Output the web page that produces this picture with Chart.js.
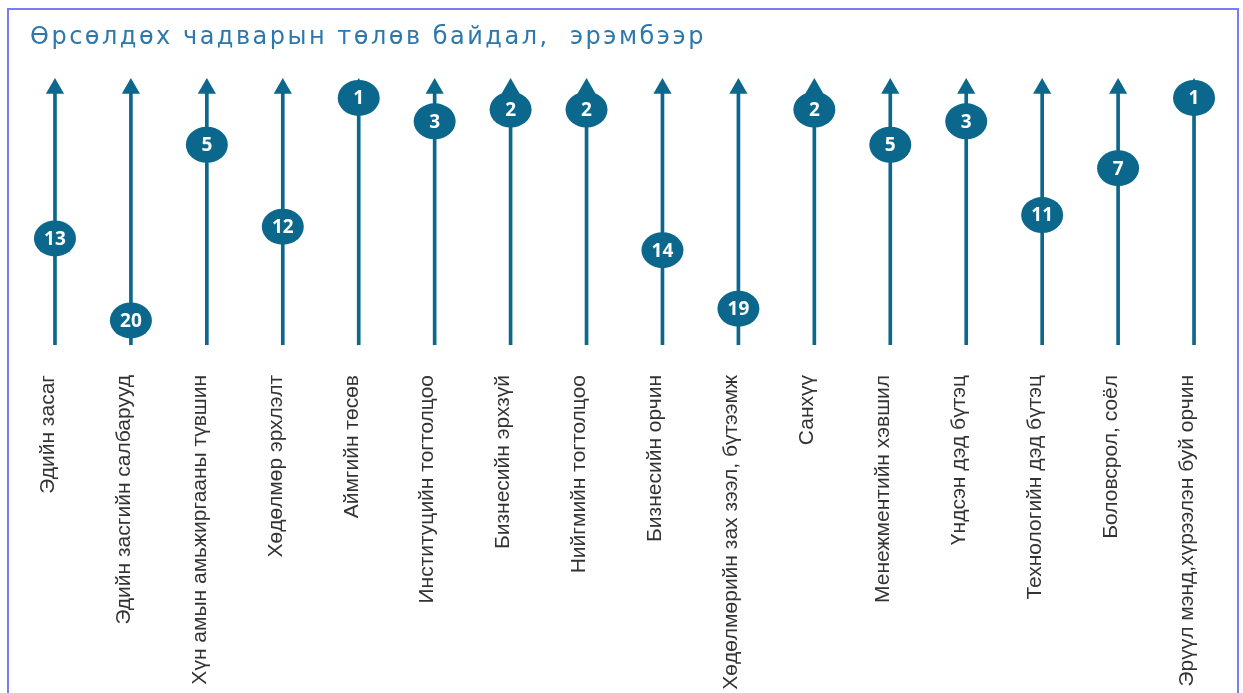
<!DOCTYPE html>
<html>
<head>
<meta charset="utf-8">
<script src="https://cdn.jsdelivr.net/npm/chart.js@4.4.0/dist/chart.umd.min.js"></script>
<style>
  html, body { margin: 0; padding: 0; background: #fff; }
  #wrap { position: relative; width: 1243px; height: 693px; overflow: hidden; }
  #frame {
    position: absolute; left: 7px; top: 8px; width: 1232px; height: 720px;
    border: 2px solid #7b7bf2; border-bottom: none; box-sizing: border-box;
  }
  #rankChart { position: absolute; left: 0; top: 0; }
</style>
</head>
<body>
<div id="wrap">
  <div id="frame"></div>
  <canvas id="rankChart" width="1243" height="693"></canvas>
</div>
<script>
const title = 'Өрсөлдөх чадварын төлөв байдал,  эрэмбээр';

const categories = [
  'Эдийн засаг',
  'Эдийн засгийн салбарууд',
  'Хүн амын амьжиргааны түвшин',
  'Хөдөлмөр эрхлэлт',
  'Аймгийн төсөв',
  'Институцийн тогтолцоо',
  'Бизнесийн эрхзүй',
  'Нийгмийн тогтолцоо',
  'Бизнесийн орчин',
  'Хөдөлмөрийн зах зээл, бүтээмж',
  'Санхүү',
  'Менежментийн хэвшил',
  'Үндсэн дэд бүтэц',
  'Технологийн дэд бүтэц',
  'Боловсрол, соёл',
  'Эрүүл мэнд,хүрээлэн буй орчин'
];

const ranks = [13, 20, 5, 12, 1, 3, 2, 2, 14, 19, 2, 5, 3, 11, 7, 1];

// rank axis runs top (best) to bottom (worst)
const RANK_TOP = -0.7;
const RANK_BOTTOM = 22.1;
const ARROW_AT = 0.2;

const TEAL = '#0b678c';

// stem line + arrow head for every category
const stems = categories.map(() => [RANK_BOTTOM, ARROW_AT + 0.3]);
const arrows = categories.map(() => ARROW_AT);

const titlePlugin = {
  id: 'spacedTitle',
  afterDraw(chart) {
    const ctx = chart.ctx;
    ctx.save();
    ctx.font = '24px "DejaVu Sans"';
    ctx.letterSpacing = '2.5px';
    ctx.fillStyle = '#2c77ab';
    ctx.textBaseline = 'alphabetic';
    ctx.fillText(title, 30, 44);
    ctx.restore();
  }
};

// round badges with the rank number, placed on the rank points
const badgePlugin = {
  id: 'rankBadges',
  afterDatasetsDraw(chart) {
    const ctx = chart.ctx;
    const meta = chart.getDatasetMeta(2);
    ctx.save();
    meta.data.forEach((pt, i) => {
      ctx.beginPath();
      ctx.ellipse(pt.x, pt.y, 21, 18, 0, 0, Math.PI * 2);
      ctx.fillStyle = TEAL;
      ctx.fill();
      ctx.fillStyle = '#ffffff';
      ctx.font = 'bold 19px "Open Sans"';
      ctx.textAlign = 'center';
      ctx.textBaseline = 'middle';
      ctx.fillText(String(ranks[i]), pt.x, pt.y + 1);
    });
    ctx.restore();
  }
};

new Chart(document.getElementById('rankChart'), {
  data: {
    labels: categories,
    datasets: [
      {
        type: 'bar',
        data: stems,
        backgroundColor: TEAL,
        barThickness: 3,
        order: 3
      },
      {
        type: 'line',
        data: arrows,
        showLine: false,
        pointStyle: 'triangle',
        pointRadius: 10.5,
        pointBackgroundColor: TEAL,
        pointBorderWidth: 0,
        order: 2
      },
      {
        type: 'line',
        data: ranks,
        showLine: false,
        pointRadius: 0,
        order: 1
      }
    ]
  },
  options: {
    responsive: false,
    animation: false,
    layout: { padding: { top: 78, left: 17, right: 11, bottom: 0 } },
    plugins: {
      legend: { display: false },
      tooltip: { enabled: false },
      title: { display: false }
    },
    scales: {
      x: {
        type: 'category',
        offset: true,
        grid: { display: false, drawTicks: false },
        border: { display: false },
        ticks: {
          autoSkip: false,
          maxRotation: 90,
          minRotation: 90,
          padding: 30,
          labelOffset: -7,
          color: '#333333',
          font: { family: '"Liberation Sans", Arial, sans-serif', size: 21 }
        },
        afterFit(scale) {
          scale.height = 348;
          scale.paddingLeft = 0;
          scale.paddingRight = 0;
        }
      },
      y: {
        display: false,
        reverse: true,
        min: RANK_TOP,
        max: RANK_BOTTOM
      }
    }
  },
  plugins: [titlePlugin, badgePlugin]
});
</script>
</body>
</html>
